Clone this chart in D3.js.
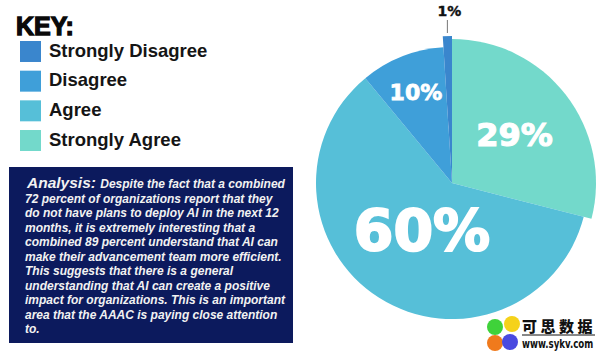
<!DOCTYPE html>
<html><head><meta charset="utf-8">
<script src="https://cdn.jsdelivr.net/npm/d3@7/dist/d3.min.js"></script>
<style>body{margin:0;background:#fff}svg{display:block}</style>
</head><body>
<svg id="c" width="600" height="357"></svg>
<script>
const categories = ["Strongly Disagree", "Disagree", "Agree", "Strongly Agree"];
const values = [1, 10, 60, 29];
const valueLabels = ["1%", "10%", "60%", "29%"];
const keyTitle = "KEY:";
const analysisHead = "Analysis:";
const analysisLines = [
  "Despite the fact that a combined",
  "72 percent of organizations report that they",
  "do not have plans to deploy AI in the next 12",
  "months, it is extremely interesting that a",
  "combined 89 percent understand that AI can",
  "make their advancement team more efficient.",
  "This suggests that there is a general",
  "understanding that AI can create a positive",
  "impact for organizations. This is an important",
  "area that the AAAC is paying close attention",
  "to."
];
const logoTitle = "可思数据";
const logoUrl = "www.sykv.com";

// styles
const colors = {"Strongly Disagree":"#3a86cd","Disagree":"#3f9fd9","Agree":"#56bfd8","Strongly Agree":"#73d9cb"};
const outerR = {"Strongly Disagree":147,"Disagree":136,"Agree":136,"Strongly Agree":144};
const labelR = {"Disagree":98,"Agree":56,"Strongly Agree":79};
const labelSize = {"Disagree":22,"Agree":57,"Strongly Agree":32};

const svg = d3.select("#c");
const cx = 452, cy = 183;
const labelFont = "DejaVu Sans, sans-serif";

// Legend
svg.append("text").attr("x",16).attr("y",35).text(keyTitle)
  .attr("font-family","Liberation Sans, Arial, sans-serif").attr("font-weight","bold")
  .attr("font-size",25).attr("fill","#0a0a0a").attr("stroke","#0a0a0a").attr("stroke-width",1.3);
const ly = d3.scaleBand().domain(categories).range([41,151]).paddingInner(0.293);
const lg = svg.append("g").selectAll("g").data(categories).join("g")
  .attr("transform",d=>`translate(20,${ly(d)})`);
lg.append("rect").attr("width",21).attr("height",ly.bandwidth()).attr("fill",d=>colors[d]);
lg.append("text").attr("x",29).attr("y",15.5).text(d=>d)
  .attr("font-family","Liberation Sans, Arial, sans-serif").attr("font-weight","bold")
  .attr("font-size",18.5).attr("fill","#151515");

// Analysis box
svg.append("rect").attr("x",9).attr("y",167).attr("width",284).attr("height",176).attr("fill","#0c1a5d");
const ty = d3.scaleLinear().domain([0,10]).range([188,333]);
const tg = svg.append("g").attr("font-family","Liberation Sans, Arial, sans-serif")
  .attr("font-style","italic").attr("font-weight","bold").attr("fill","#f2f2f2");
analysisLines.forEach((line,i)=>{
  const t = tg.append("text").attr("x", i===0?27:25).attr("y", ty(i));
  if(i===0){
    t.append("tspan").attr("font-size",15.5).text(analysisHead+" ");
    t.append("tspan").attr("font-size",12).text(line);
  } else {
    t.attr("font-size",12).text(line);
  }
});

// Pie
const pieData = categories.map((c,i)=>({cat:c,value:values[i],label:valueLabels[i]})).reverse();
const pie = d3.pie().sort(null).value(d=>d.value);
const arcs = pie(pieData);
const pg = svg.append("g").attr("transform",`translate(${cx},${cy})`);
pg.selectAll("path").data(arcs).join("path")
  .attr("d",d=>d3.arc().innerRadius(0).outerRadius(outerR[d.data.cat])(d))
  .attr("fill",d=>colors[d.data.cat]);
arcs.forEach(d=>{
  const c = d.data.cat;
  const a = (d.startAngle+d.endAngle)/2;
  if(labelR[c]){
    const x = Math.sin(a)*labelR[c], y = -Math.cos(a)*labelR[c];
    pg.append("text").attr("x",x).attr("y",y).attr("dy","0.36em")
      .attr("text-anchor","middle").attr("font-family",labelFont)
      .attr("font-weight","bold").attr("font-size",labelSize[c]).attr("fill","#fff")
      .attr("stroke","#fff").attr("stroke-width",labelSize[c]/28).text(d.data.label);
  } else {
    const x = Math.sin(a)*outerR[c];
    pg.append("line").attr("x1",x).attr("x2",x).attr("y1",-outerR[c]-3).attr("y2",-outerR[c]-16)
      .attr("stroke","#777").attr("stroke-width",1);
    pg.append("text").attr("x",x+2).attr("y",-outerR[c]-20).attr("text-anchor","middle")
      .attr("font-family",labelFont).attr("font-weight","bold")
      .attr("font-size",14).attr("fill","#111").attr("stroke","#111").attr("stroke-width",0.4).text(d.data.label);
  }
});

// Watermark logo
const wg = svg.append("g");
[["#3fd23a",495,327],["#f5d21a",512,324],["#f07a1c",495,343],["#4a4ae0",510,342]].forEach(c=>{
  wg.append("circle").attr("cx",c[1]).attr("cy",c[2]).attr("r",8).attr("fill",c[0]);
});
wg.append("text").attr("x",522).attr("y",332).text(logoTitle)
  .attr("font-family","Noto Sans CJK SC").attr("font-weight","900").attr("font-size",15)
  .attr("letter-spacing",3.5).attr("fill","#111");
wg.append("line").attr("x1",522).attr("x2",595).attr("y1",335).attr("y2",335).attr("stroke","#111").attr("stroke-width",1);
wg.append("text").attr("transform","translate(522,348) scale(0.8,1)").text(logoUrl)
  .attr("font-family","DejaVu Sans Condensed, DejaVu Sans, sans-serif").attr("font-weight","bold").attr("font-size",12)
  .attr("fill","#111");
</script>
</body></html>
